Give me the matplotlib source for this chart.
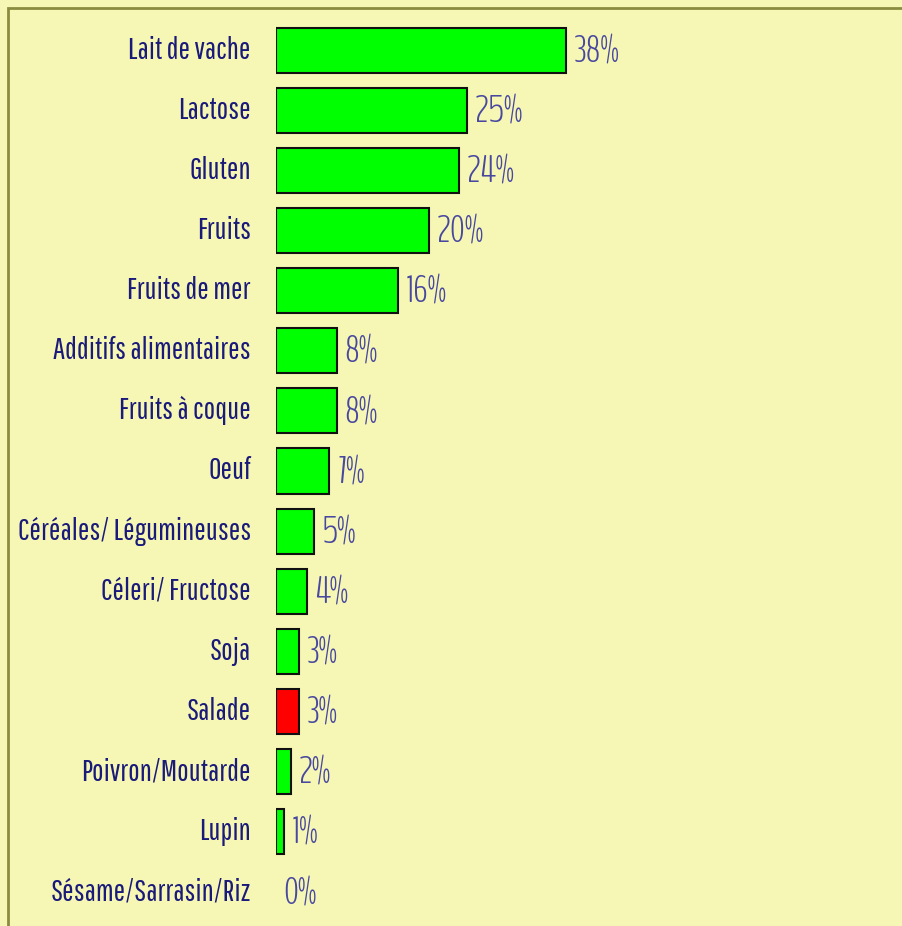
import matplotlib
matplotlib.use("Agg")
import matplotlib.pyplot as plt
from matplotlib import font_manager as fm
from matplotlib.patches import Rectangle

# data
categories = ["Lait de vache", "Lactose", "Gluten", "Fruits", "Fruits de mer",
              "Additifs alimentaires", "Fruits à coque", "Oeuf",
              "Céréales/ Légumineuses", "Céleri/ Fructose", "Soja", "Salade",
              "Poivron/Moutarde", "Lupin", "Sésame/Sarrasin/Riz"]
values = [38, 25, 24, 20, 16, 8, 8, 7, 5, 4, 3, 3, 2, 1, 0]
highlight = "Salade"

bg = "#f7f7b5"
# narrow fonts, first one that is installed
installed = {f.name for f in fm.fontManager.ttflist}
def pick(wanted):
    return [f for f in wanted if f in installed][:1] + ["DejaVu Sans"]
label_font = pick(["Pathway Gothic One", "BenchNine", "Oswald"])
value_font = pick(["BenchNine", "Pathway Gothic One", "Oswald"])

fig = plt.figure(figsize=(9.02, 9.26), dpi=100, facecolor=bg)
ax = fig.add_axes([276 / 902, 1 - 922 / 926, 1 - 276 / 902, 902 / 926])
ax.set_facecolor(bg)

colors = ["#ff0000" if c == highlight else "#00ff00" for c in categories]
lw = [1.5 if v > 0 else 0 for v in values]
y = range(len(categories))
ax.barh(y, values, height=0.75, color=colors, edgecolor="#111111", linewidth=lw)

for i, (c, v) in enumerate(zip(categories, values)):
    ax.text(-3.3, i, c, ha="right", va="center", fontsize=22,
            family=label_font, color="#1a1a7a", clip_on=False)
    ax.text(v + 1.0, i + 0.04, f"{v}%", ha="left", va="center", fontsize=27,
            family=value_font, fontweight="light", color="#4848a0")

ax.set_xlim(0, 82)
ax.set_ylim(len(categories) - 0.5, -0.5)
ax.axis("off")

# olive frame, only top and left visible in the crop
fig.patches.append(Rectangle((8 / 902, -0.1), 2, 1 - 8 / 926 + 0.1,
                             transform=fig.transFigure, fill=False,
                             edgecolor="#8c8c40", linewidth=2))

fig.savefig("out.png", dpi=100, facecolor=bg)
